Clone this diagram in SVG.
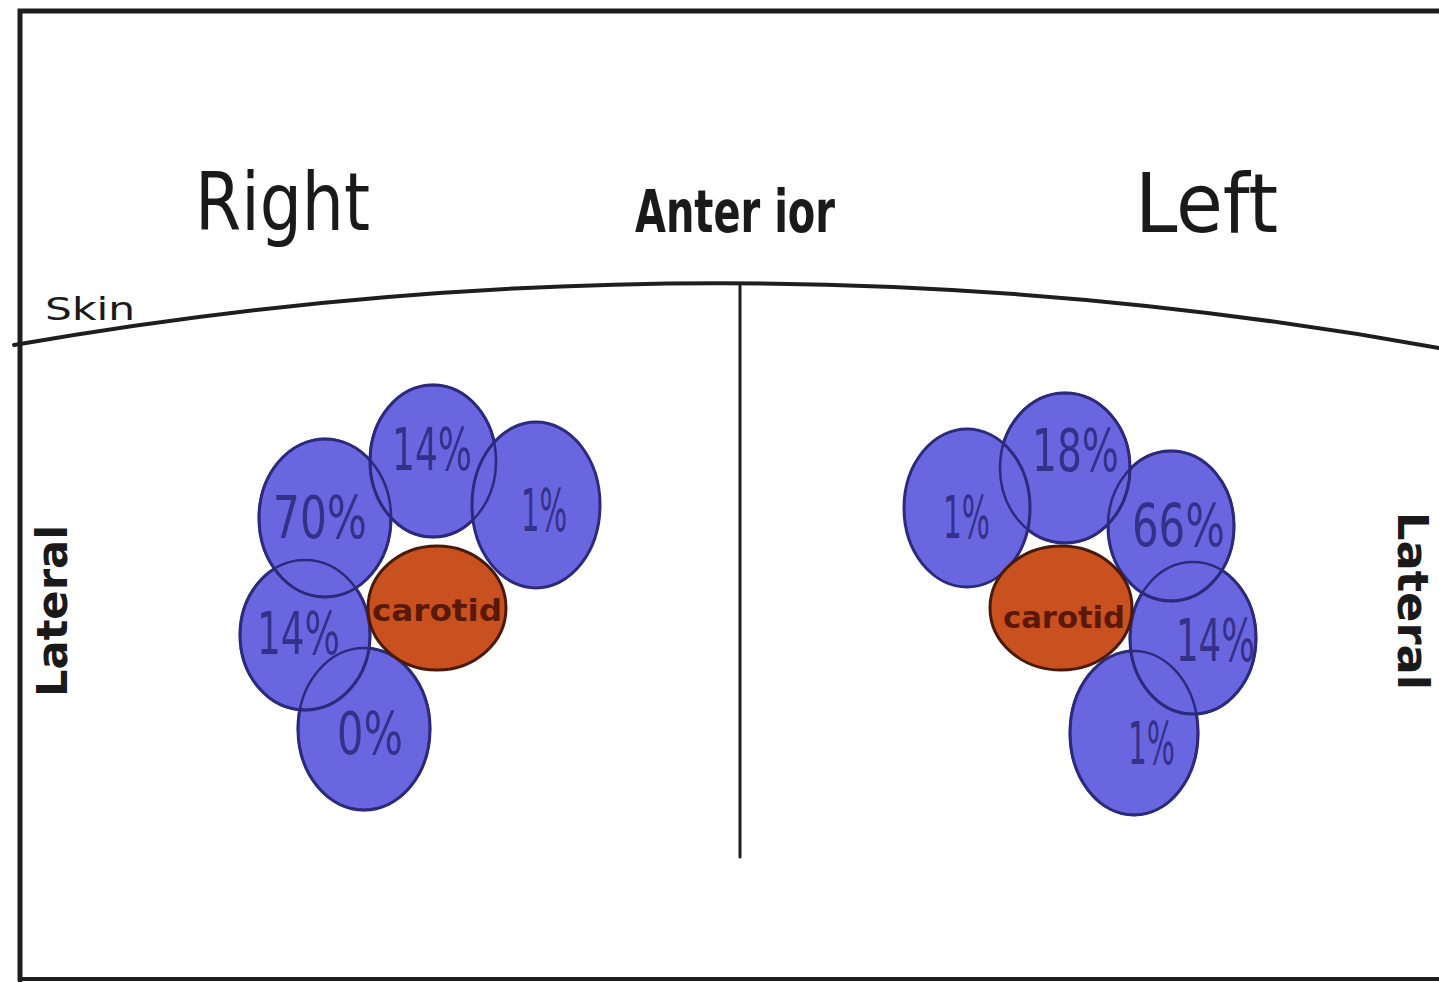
<svg xmlns="http://www.w3.org/2000/svg" width="1439" height="982" viewBox="0 0 1439 982">
<style>
.line{fill:none;stroke:#1e1e1e;stroke-linecap:round}
.blue{fill:#6a66e0;stroke:#2c2a7c;stroke-width:3}
.rim{fill:none;stroke:#2c2a7c;stroke-width:2.5}
.car{fill:#c9501f;stroke:#4a1a08;stroke-width:3}
.pct{font-family:"Liberation Sans Narrow","DejaVu Sans Condensed","Liberation Sans",sans-serif;font-size:58px;fill:#33318a}
.cl{font-family:"Liberation Sans Narrow","DejaVu Sans Condensed",sans-serif;font-size:30px;fill:#5a1806;font-weight:bold}
.title{font-family:"DejaVu Sans Condensed","DejaVu Sans",sans-serif;fill:#1a1a1a}
.lat{font-family:"DejaVu Sans","Liberation Sans",sans-serif;font-weight:bold;font-size:42px;fill:#1a1a1a}
</style>
<rect x="0" y="0" width="1439" height="982" fill="#ffffff"/>
<g id="frame">
<path class="line" d="M20 980 V11 H1439" stroke-width="5"/>
<path class="line" d="M20 979 H1439" stroke-width="4"/>
</g>
<g id="connectors">
<path id="skin" class="line" stroke-width="4" d="M14 345 Q730 220 1439 348"/>
<path id="midline" class="line" stroke-width="3" d="M740 286 V857"/>
</g>
<g id="titles">
<text class="title" x="195" y="230" font-size="80" textLength="175" lengthAdjust="spacingAndGlyphs">Right</text>
<text class="title" x="635" y="232" font-size="58" font-weight="bold" textLength="200" lengthAdjust="spacingAndGlyphs">Anter ior</text>
<text class="title" x="1135" y="232" font-size="82" textLength="143" lengthAdjust="spacingAndGlyphs">Left</text>
<text class="title" x="45" y="320" font-size="32" textLength="90" lengthAdjust="spacingAndGlyphs">Skin</text>
<text class="lat" transform="translate(67 611) rotate(-90)" text-anchor="middle" textLength="172" lengthAdjust="spacingAndGlyphs">Lateral</text>
<text class="lat" transform="translate(1398 601) rotate(90)" text-anchor="middle" textLength="178" lengthAdjust="spacingAndGlyphs">Lateral</text>
</g>
<!-- Right side cluster -->
<g id="r-0">
<ellipse class="blue" cx="364" cy="729" rx="66" ry="81"/>
</g>
<g id="r-14b">
<ellipse class="blue" cx="305" cy="635" rx="65" ry="75"/>
</g>
<g id="r-70">
<ellipse class="blue" cx="325" cy="518" rx="66" ry="79"/>
</g>
<g id="r-14a">
<ellipse class="blue" cx="433" cy="461" rx="63" ry="76"/>
</g>
<g id="r-1">
<ellipse class="blue" cx="536" cy="505" rx="64" ry="83"/>
</g>
<g id="r-rims">
<ellipse class="rim" cx="364" cy="729" rx="66" ry="81"/>
<ellipse class="rim" cx="305" cy="635" rx="65" ry="75"/>
<ellipse class="rim" cx="325" cy="518" rx="66" ry="79"/>
<ellipse class="rim" cx="433" cy="461" rx="63" ry="76"/>
</g>
<g id="r-carotid">
<ellipse class="car" cx="437" cy="608" rx="69" ry="62"/>
<text class="cl" x="437" y="621" text-anchor="middle" textLength="130" lengthAdjust="spacingAndGlyphs">carotid</text>
</g>
<g id="r-labels">
<text class="pct" x="273" y="538" textLength="94" lengthAdjust="spacingAndGlyphs">70%</text>
<text class="pct" x="392" y="470" textLength="80" lengthAdjust="spacingAndGlyphs">14%</text>
<text class="pct" x="521" y="531" textLength="46" lengthAdjust="spacingAndGlyphs">1%</text>
<text class="pct" x="257" y="654" textLength="83" lengthAdjust="spacingAndGlyphs">14%</text>
<text class="pct" x="337" y="754" textLength="66" lengthAdjust="spacingAndGlyphs">0%</text>
</g>
<!-- Left side cluster -->
<g id="l-1b">
<ellipse class="blue" cx="1134" cy="733" rx="64" ry="82"/>
</g>
<g id="l-14">
<ellipse class="blue" cx="1193" cy="638" rx="63" ry="76"/>
</g>
<g id="l-66">
<ellipse class="blue" cx="1171" cy="526" rx="63" ry="75"/>
</g>
<g id="l-18">
<ellipse class="blue" cx="1065" cy="468" rx="65" ry="75"/>
</g>
<g id="l-1a">
<ellipse class="blue" cx="967" cy="508" rx="63" ry="79"/>
</g>
<g id="l-rims">
<ellipse class="rim" cx="1134" cy="733" rx="64" ry="82"/>
<ellipse class="rim" cx="1193" cy="638" rx="63" ry="76"/>
<ellipse class="rim" cx="1171" cy="526" rx="63" ry="75"/>
<ellipse class="rim" cx="1065" cy="468" rx="65" ry="75"/>
</g>
<g id="l-carotid">
<ellipse class="car" cx="1061" cy="608" rx="71" ry="62"/>
<text class="cl" x="1064" y="628" text-anchor="middle" textLength="122" lengthAdjust="spacingAndGlyphs">carotid</text>
</g>
<g id="l-labels">
<text class="pct" x="943" y="538" textLength="47" lengthAdjust="spacingAndGlyphs">1%</text>
<text class="pct" x="1032" y="471" textLength="87" lengthAdjust="spacingAndGlyphs">18%</text>
<text class="pct" x="1132" y="546" textLength="93" lengthAdjust="spacingAndGlyphs">66%</text>
<text class="pct" x="1176" y="661" textLength="79" lengthAdjust="spacingAndGlyphs">14%</text>
<text class="pct" x="1128" y="764" textLength="47" lengthAdjust="spacingAndGlyphs">1%</text>
</g>
</svg>
